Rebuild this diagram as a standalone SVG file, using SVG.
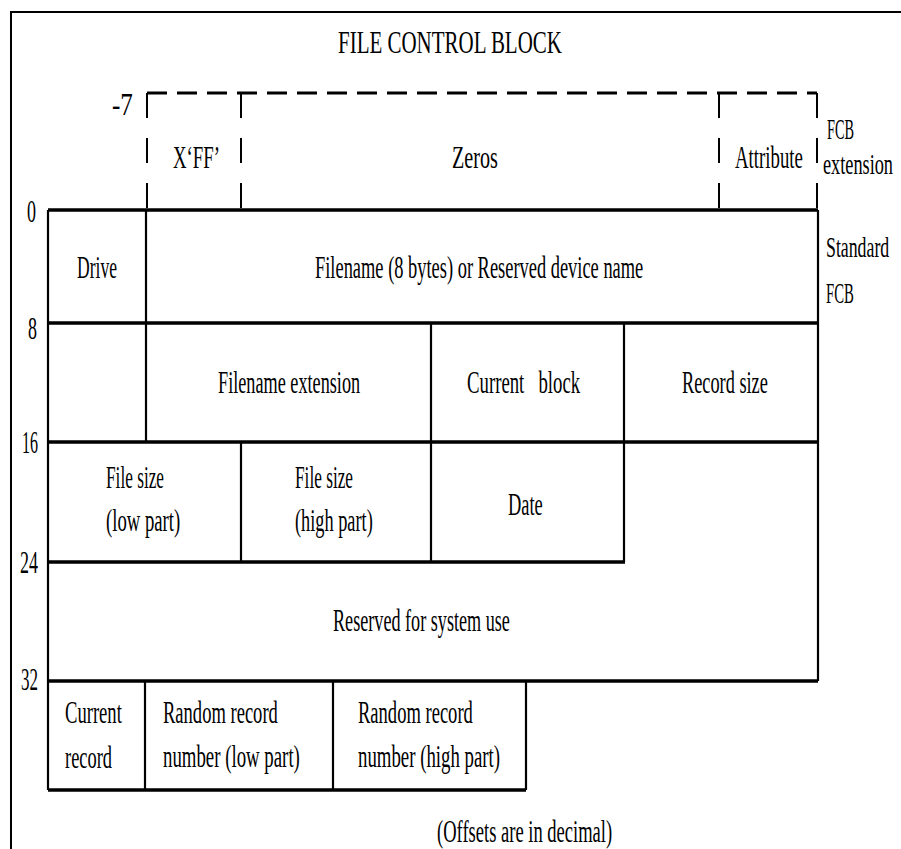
<svg xmlns="http://www.w3.org/2000/svg" width="901" height="849" viewBox="0 0 901 849">
<style>
text{font-family:"Liberation Serif","Times New Roman",serif;font-size:32px;fill:#000}
.s{font-size:29px}
.h{stroke:#000;stroke-width:3.5;fill:none}
.v{stroke:#000;stroke-width:2.2;fill:none}
.d{stroke:#000;stroke-width:3;fill:none;stroke-dasharray:20 10}
.dv{stroke:#000;stroke-width:2;fill:none;stroke-dasharray:25 20}
.f{stroke:#000;stroke-width:2;fill:none}
</style>
<rect x="0" y="0" width="901" height="849" fill="#fff"/>
<g id="frame">
<path class="f" d="M11 849 V12 H901"/>
</g>
<g id="title">
<text transform="translate(338,53) scale(0.49,1)" font-size="40" textLength="457" lengthAdjust="spacingAndGlyphs">FILE CONTROL BLOCK</text>
</g>
<g id="offsets">
<text transform="translate(112,115) scale(0.58,1)" font-size="26" textLength="36" lengthAdjust="spacingAndGlyphs">-7</text>
<text transform="translate(27,222) scale(0.58,1)" textLength="15.5" lengthAdjust="spacingAndGlyphs">0</text>
<text transform="translate(28,339) scale(0.58,1)" textLength="15.5" lengthAdjust="spacingAndGlyphs">8</text>
<text transform="translate(22,453) scale(0.58,1)" textLength="27.6" lengthAdjust="spacingAndGlyphs">16</text>
<text transform="translate(20,573) scale(0.58,1)" textLength="31" lengthAdjust="spacingAndGlyphs">24</text>
<text transform="translate(21,690) scale(0.58,1)" textLength="29.3" lengthAdjust="spacingAndGlyphs">32</text>
</g>
<g id="connectors">
<path class="d" d="M147 93 H817"/>
<path class="dv" d="M147 93 V210 M241 93 V210 M719 93 V210 M817 93 V210"/>
<path class="h" d="M48 210 H818 M48 323 H818 M48 442 H818 M48 562 H625 M48 681 H818 M48 790 H526"/>
<path class="v" d="M48 210 V790 M818 210 V681 M146 210 V442 M431 323 V562 M624 323 V562 M241 442 V562 M145 681 V790 M333 681 V790 M526 681 V790"/>
</g>
<g id="fcb-extension">
<text transform="translate(173,168) scale(0.58,1)" textLength="81" lengthAdjust="spacingAndGlyphs">X‘FF’</text>
<text transform="translate(452,168) scale(0.58,1)" textLength="79" lengthAdjust="spacingAndGlyphs">Zeros</text>
<text transform="translate(735,168) scale(0.58,1)" textLength="117" lengthAdjust="spacingAndGlyphs">Attribute</text>
<text class="s" transform="translate(827,139) scale(0.58,1)" textLength="46.6" lengthAdjust="spacingAndGlyphs">FCB</text>
<text class="s" transform="translate(823,174) scale(0.58,1)" textLength="120.7" lengthAdjust="spacingAndGlyphs">extension</text>
</g>
<g id="row0">
<text transform="translate(77,278) scale(0.58,1)" textLength="69" lengthAdjust="spacingAndGlyphs">Drive</text>
<text transform="translate(315,278) scale(0.58,1)" textLength="566" lengthAdjust="spacingAndGlyphs">Filename (8 bytes) or Reserved device name</text>
<text class="s" transform="translate(826,257) scale(0.58,1)" textLength="109" lengthAdjust="spacingAndGlyphs">Standard</text>
<text class="s" transform="translate(826,303) scale(0.58,1)" textLength="48" lengthAdjust="spacingAndGlyphs">FCB</text>
</g>
<g id="row8">
<text transform="translate(218,393) scale(0.58,1)" textLength="245" lengthAdjust="spacingAndGlyphs">Filename extension</text>
<text transform="translate(467,393) scale(0.58,1)" textLength="195" lengthAdjust="spacingAndGlyphs" xml:space="preserve">Current   block</text>
<text transform="translate(682,393) scale(0.58,1)" textLength="148" lengthAdjust="spacingAndGlyphs">Record size</text>
</g>
<g id="row16">
<text transform="translate(106,488) scale(0.58,1)" textLength="100" lengthAdjust="spacingAndGlyphs">File size</text>
<text transform="translate(106,531) scale(0.58,1)" textLength="128" lengthAdjust="spacingAndGlyphs">(low part)</text>
<text transform="translate(295,488) scale(0.58,1)" textLength="100" lengthAdjust="spacingAndGlyphs">File size</text>
<text transform="translate(295,531) scale(0.58,1)" textLength="134" lengthAdjust="spacingAndGlyphs">(high part)</text>
<text transform="translate(508,515) scale(0.58,1)" textLength="60" lengthAdjust="spacingAndGlyphs">Date</text>
</g>
<g id="row24">
<text transform="translate(333,631) scale(0.58,1)" textLength="305" lengthAdjust="spacingAndGlyphs">Reserved for system use</text>
</g>
<g id="row32">
<text transform="translate(65,723) scale(0.58,1)" textLength="98" lengthAdjust="spacingAndGlyphs">Current</text>
<text transform="translate(65,768) scale(0.58,1)" textLength="81" lengthAdjust="spacingAndGlyphs">record</text>
<text transform="translate(163,723) scale(0.58,1)" textLength="198" lengthAdjust="spacingAndGlyphs">Random record</text>
<text transform="translate(163,767) scale(0.58,1)" textLength="236" lengthAdjust="spacingAndGlyphs">number (low part)</text>
<text transform="translate(358,723) scale(0.58,1)" textLength="198" lengthAdjust="spacingAndGlyphs">Random record</text>
<text transform="translate(358,767) scale(0.58,1)" textLength="245" lengthAdjust="spacingAndGlyphs">number (high part)</text>
</g>
<g id="note">
<text transform="translate(437,842) scale(0.58,1)" textLength="302" lengthAdjust="spacingAndGlyphs">(Offsets are in decimal)</text>
</g>
</svg>
